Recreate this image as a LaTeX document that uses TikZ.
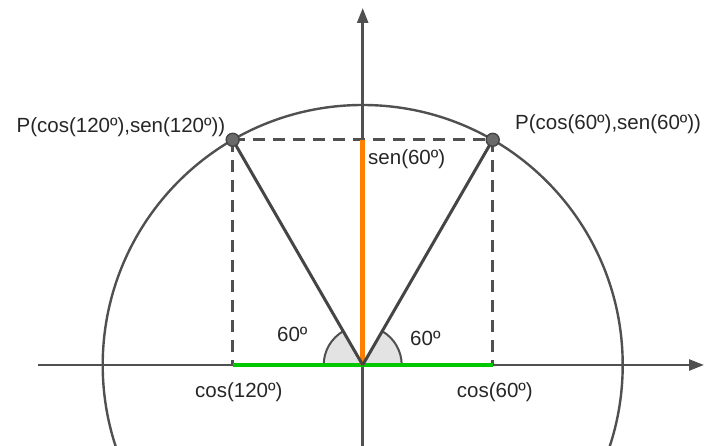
\documentclass[tikz,border=0pt]{standalone}
\usepackage{fontspec}
\setmainfont{Liberation Sans}
\usetikzlibrary{arrows.meta}
\definecolor{axisgray}{HTML}{505050}
\definecolor{linegray}{HTML}{454545}
\definecolor{anglefill}{HTML}{E3E3E3}
\definecolor{ptfill}{HTML}{6A6A6A}
\definecolor{segGreen}{HTML}{00C800}
\definecolor{segOrange}{HTML}{FF7F00}
\tikzset{
  axisline/.style={draw=axisgray, line width=2.5pt, -{Triangle[length=15pt,width=11pt]}},
  circleline/.style={draw=axisgray, line width=2.4pt},
  dashline/.style={draw=axisgray, line width=2.6pt, dash pattern=on 12pt off 8pt},
  radline/.style={draw=linegray, line width=3pt},
  anglesec/.style={fill=anglefill},
  anglearc/.style={draw=axisgray, line width=2pt},
  pt/.style={circle, draw=linegray, fill=ptfill, line width=1.4pt, minimum size=13pt, inner sep=0pt},
  lbl/.style={font=\fontsize{20.5}{24}\selectfont, text=black!85, inner sep=0pt, anchor=base west}
}
\begin{document}
\begin{tikzpicture}[x=1pt,y=1pt]
\useasboundingbox (0,0) rectangle (704,446);
\clip (0,0) rectangle (704,446);
\coordinate (O) at (362.7,81);
\coordinate (P60c) at (492.7,306.2);
\coordinate (P120c) at (232.7,306.2);
\coordinate (F60) at (492.7,81);
\coordinate (F120) at (232.7,81);
\coordinate (S60) at (362.7,306.2);
\coordinate (XL) at (38,81);
\coordinate (XR) at (704,81);
\coordinate (YB) at (362.7,0);
\coordinate (YT) at (362.7,438);
% unit circle
\draw[circleline] (O) circle[radius=260];
% axes
\draw[axisline] (XL) -- (XR);
\draw[axisline] (YB) -- (YT);
% dashed projections
\draw[dashline] (P120c) -- (P60c);
\draw[dashline] (P60c) -- (F60);
\draw[dashline] (P120c) -- (F120);
% angle sectors
\fill[anglesec] (O) -- ++(39,0) arc[start angle=0,end angle=60,radius=39] -- cycle;
\fill[anglesec] (O) -- ++(-39,0) arc[start angle=180,end angle=120,radius=39] -- cycle;
\draw[anglearc] ([shift={(0:39)}]O) arc[start angle=0,end angle=60,radius=39];
\draw[anglearc] ([shift={(120:39)}]O) arc[start angle=120,end angle=180,radius=39];
% cos segment and sin segment
\draw[segGreen, line width=4.5pt] (F120) -- (F60);
\draw[segOrange, line width=4.5pt] (O) -- (S60);
% radii
\draw[radline] (O) -- (P60c);
\draw[radline] (O) -- (P120c);
% points
\node[pt] (P60) at (P60c) {};
\node[pt] (P120) at (P120c) {};
% labels
\node[lbl, anchor=base east] (L120) at (225.5,313) {P(cos(120º),sen(120º))};
\node[lbl] (L60) at (515,316) {P(cos(60º),sen(60º))};
\node[lbl] (Lsen) at (368,281) {sen(60º)};
\node[lbl] (A120) at (277,104) {60º};
\node[lbl] (A60) at (410,100) {60º};
\node[lbl] (C120) at (195,48) {cos(120º)};
\node[lbl] (C60) at (456.7,48) {cos(60º)};
\end{tikzpicture}
\end{document}
